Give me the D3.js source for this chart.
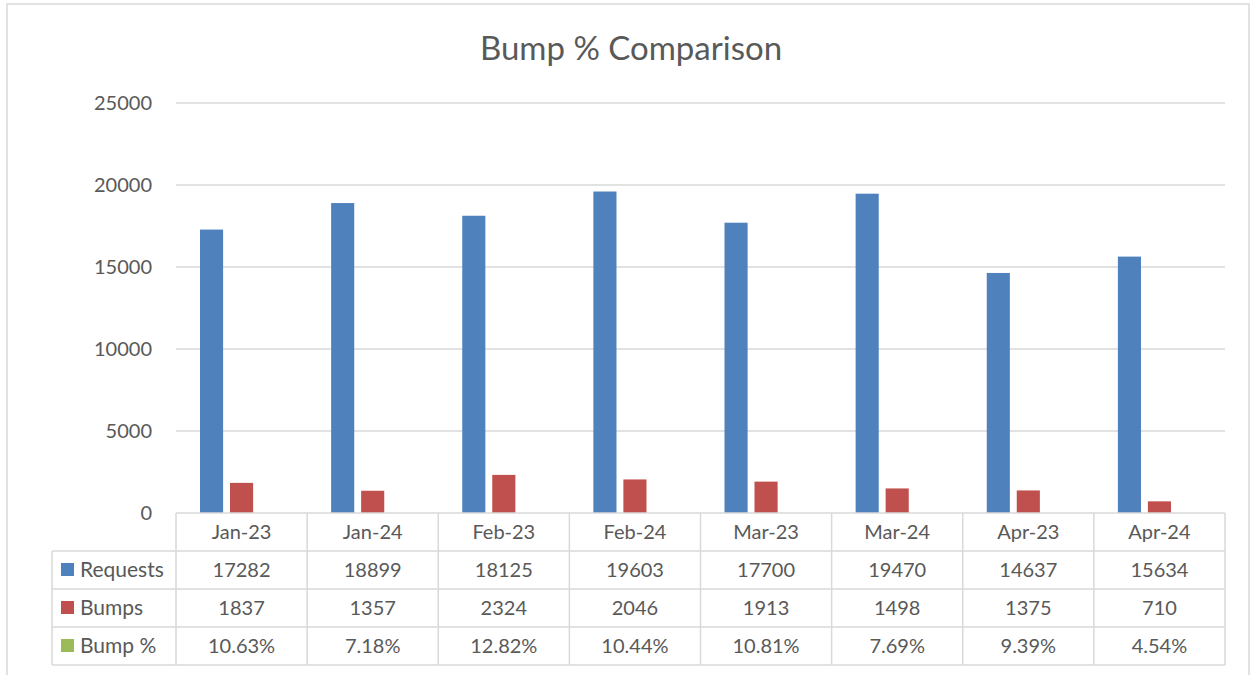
<!DOCTYPE html>
<html lang="en">
<head>
    <meta charset="utf-8">
    <title>Bump % Comparison</title>
    <script type="text/javascript" src="https://cdn.jsdelivr.net/npm/d3@7"></script>
    <style type="text/css">
        body { margin: 0; background: #fff; }
        text { font-family: Lato, "Open Sans", sans-serif; fill: #595959; }
    </style>
</head>
<body>
    <script type="text/javascript">

        //Data
        var months = ["Jan-23", "Jan-24", "Feb-23", "Feb-24", "Mar-23", "Mar-24", "Apr-23", "Apr-24"];
        var requests = [17282, 18899, 18125, 19603, 17700, 19470, 14637, 15634];
        var bumps = [1837, 1357, 2324, 2046, 1913, 1498, 1375, 710];
        var bumpPct = [0.1063, 0.0718, 0.1282, 0.1044, 0.1081, 0.0769, 0.0939, 0.0454];
        var yTicks = [0, 5000, 10000, 15000, 20000, 25000];

        var seriesNames = ["Requests", "Bumps", "Bump %"];
        var seriesColors = ["#4f81bd", "#c0504d", "#9bbb59"];

        //Width and height
        var w = 1252;
        var h = 675;
        var plot = { left: 176, right: 1225, top: 103, bottom: 513 };
        var rowH = 38;

        var svg = d3.select("body")
            .append("svg")
            .attr("width", w)
            .attr("height", h);

        //Chart border
        svg.append("rect")
            .attr("x", 7).attr("y", 4)
            .attr("width", 1242).attr("height", 700)
            .style("fill", "none")
            .style("stroke", "#d9d9d9")
            .style("stroke-width", 1.5);

        //Title
        svg.append("text")
            .attr("x", 631).attr("y", 60)
            .attr("text-anchor", "middle")
            .style("font-size", "33px")
            .text("Bump % Comparison");

        //Scales
        var x = d3.scaleBand()
            .domain(months)
            .range([plot.left, plot.right]);

        var inner = d3.scaleBand()
            .domain(seriesNames)
            .range([24, x.bandwidth() - 24])
            .paddingInner(0.23);

        var y = d3.scaleLinear()
            .domain([0, 25000])
            .range([plot.bottom, plot.top]);

        //Gridlines
        svg.append("g")
            .selectAll("line")
            .data(yTicks.slice(1))
            .enter()
            .append("line")
            .attr("x1", plot.left).attr("x2", plot.right)
            .attr("y1", function (d) { return y(d); })
            .attr("y2", function (d) { return y(d); })
            .style("stroke", "#d9d9d9")
            .style("stroke-width", 1.5);

        //Y axis labels
        svg.append("g")
            .selectAll("text")
            .data(yTicks)
            .enter()
            .append("text")
            .attr("x", 152)
            .attr("y", function (d) { return y(d) + 7; })
            .attr("text-anchor", "end")
            .style("font-size", "20px")
            .text(function (d) { return d; });

        //Bars
        var series = [requests, bumps, bumpPct];
        series.forEach(function (vals, si) {
            svg.append("g")
                .selectAll("rect")
                .data(vals)
                .enter()
                .append("rect")
                .attr("x", function (d, i) { return x(months[i]) + inner(seriesNames[si]); })
                .attr("width", inner.bandwidth())
                .attr("y", function (d) { return y(d); })
                .attr("height", function (d) { return plot.bottom - y(d); })
                .style("fill", seriesColors[si]);
        });

        //Data table
        var table = svg.append("g");
        var lineStyle = function (sel) {
            sel.style("stroke", "#d9d9d9").style("stroke-width", 1.5);
        };
        var tableLeft = 52;
        var tableBottom = plot.bottom + rowH * 4;

        //horizontal lines
        table.append("line")
            .attr("x1", plot.left).attr("x2", plot.right)
            .attr("y1", plot.bottom).attr("y2", plot.bottom)
            .call(lineStyle);
        [1, 2, 3, 4].forEach(function (r) {
            table.append("line")
                .attr("x1", tableLeft).attr("x2", plot.right)
                .attr("y1", plot.bottom + rowH * r).attr("y2", plot.bottom + rowH * r)
                .call(lineStyle);
        });
        //vertical lines
        table.append("line")
            .attr("x1", tableLeft).attr("x2", tableLeft)
            .attr("y1", plot.bottom + rowH).attr("y2", tableBottom)
            .call(lineStyle);
        months.forEach(function (m) {
            table.append("line")
                .attr("x1", x(m)).attr("x2", x(m))
                .attr("y1", plot.bottom).attr("y2", tableBottom)
                .call(lineStyle);
        });
        table.append("line")
            .attr("x1", plot.right).attr("x2", plot.right)
            .attr("y1", plot.bottom).attr("y2", tableBottom)
            .call(lineStyle);

        //header
        table.selectAll("text.head")
            .data(months)
            .enter()
            .append("text")
            .attr("class", "head")
            .attr("x", function (d) { return x(d) + x.bandwidth() / 2; })
            .attr("y", plot.bottom + rowH / 2 + 7)
            .attr("text-anchor", "middle")
            .style("font-size", "20px")
            .text(function (d) { return d; });

        //rows
        var rowText = [
            requests.map(String),
            bumps.map(String),
            bumpPct.map(function (d) { return (d * 100).toFixed(2) + "%"; })
        ];
        rowText.forEach(function (vals, r) {
            var cy = plot.bottom + rowH * (r + 1) + rowH / 2;
            table.append("rect")
                .attr("x", 61).attr("y", cy - 7)
                .attr("width", 13).attr("height", 13)
                .style("fill", seriesColors[r]);
            table.append("text")
                .attr("x", 80).attr("y", cy + 7)
                .style("font-size", "21px")
                .text(seriesNames[r]);
            table.append("g")
                .selectAll("text")
                .data(vals)
                .enter()
                .append("text")
                .attr("x", function (d, i) { return x(months[i]) + x.bandwidth() / 2; })
                .attr("y", cy + 7)
                .attr("text-anchor", "middle")
                .style("font-size", "20px")
                .text(function (d) { return d; });
        });
    </script>
</body>
</html>
